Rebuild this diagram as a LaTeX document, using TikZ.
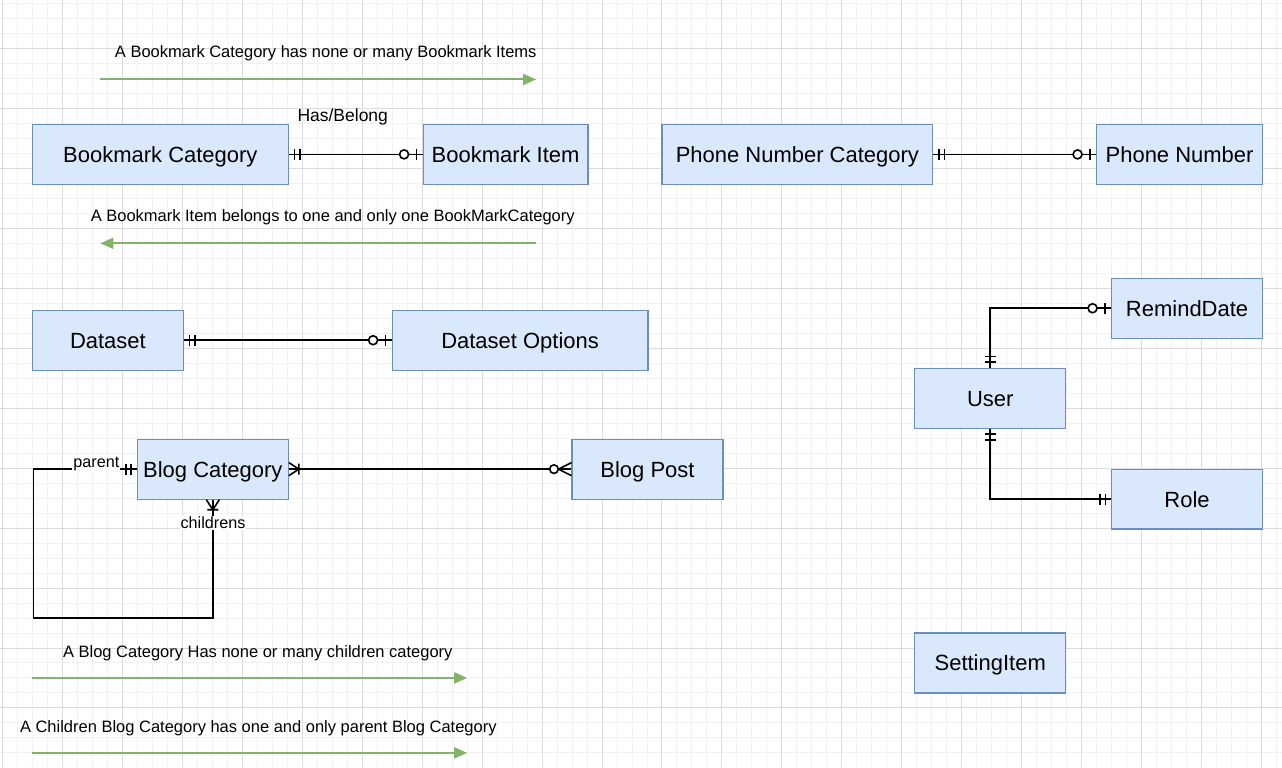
\documentclass[tikz,border=0pt]{standalone}
\usepackage{fontspec}
\setmainfont{Liberation Sans}
\usetikzlibrary{arrows.meta}
\definecolor{entityfill}{HTML}{DAE8FC}
\definecolor{entityline}{HTML}{6C8EBF}
\definecolor{hintgreen}{HTML}{82B366}
\definecolor{gridminor}{HTML}{F2F2F2}
\definecolor{gridmajor}{HTML}{DCDCDC}

\pgfdeclarearrow{
    name = ermandone,
    setup code = {
        \pgfarrowssettipend{0pt}
        \pgfarrowssetlineend{0pt}
        \pgfarrowssetbackend{-12pt}
        \pgfarrowssetvisualbackend{-12pt}
    },
    drawing code = {
        \pgfsetlinewidth{1.6pt}
        \pgfpathmoveto{\pgfqpoint{-5.5pt}{-5.5pt}}
        \pgfpathlineto{\pgfqpoint{-5.5pt}{5.5pt}}
        \pgfpathmoveto{\pgfqpoint{-11pt}{-5.5pt}}
        \pgfpathlineto{\pgfqpoint{-11pt}{5.5pt}}
        \pgfusepathqstroke
    }
}
\pgfdeclarearrow{
    name = erzeroone,
    setup code = {
        \pgfarrowssettipend{0pt}
        \pgfarrowssetlineend{0pt}
        \pgfarrowssetbackend{-23pt}
        \pgfarrowssetvisualbackend{-23pt}
    },
    drawing code = {
        \pgfsetlinewidth{1.6pt}
        \pgfpathmoveto{\pgfqpoint{-6pt}{-5.5pt}}
        \pgfpathlineto{\pgfqpoint{-6pt}{5.5pt}}
        \pgfusepathqstroke
        \pgfpathcircle{\pgfqpoint{-18.5pt}{0pt}}{4.5pt}
        \pgfsetfillcolor{white}
        \pgfusepathqfillstroke
    }
}
\pgfdeclarearrow{
    name = eronemany,
    setup code = {
        \pgfarrowssettipend{0pt}
        \pgfarrowssetlineend{0pt}
        \pgfarrowssetbackend{-11pt}
        \pgfarrowssetvisualbackend{-11pt}
    },
    drawing code = {
        \pgfsetlinewidth{1.6pt}
        \pgfpathmoveto{\pgfqpoint{0pt}{6.5pt}}
        \pgfpathlineto{\pgfqpoint{-10pt}{0pt}}
        \pgfpathlineto{\pgfqpoint{0pt}{-6.5pt}}
        \pgfpathmoveto{\pgfqpoint{-10pt}{-5.5pt}}
        \pgfpathlineto{\pgfqpoint{-10pt}{5.5pt}}
        \pgfusepathqstroke
    }
}
\pgfdeclarearrow{
    name = erzeromany,
    setup code = {
        \pgfarrowssettipend{0pt}
        \pgfarrowssetlineend{0pt}
        \pgfarrowssetbackend{-22pt}
        \pgfarrowssetvisualbackend{-22pt}
    },
    drawing code = {
        \pgfsetlinewidth{1.6pt}
        \pgfpathmoveto{\pgfqpoint{0pt}{6.5pt}}
        \pgfpathlineto{\pgfqpoint{-13pt}{0pt}}
        \pgfpathlineto{\pgfqpoint{0pt}{-6.5pt}}
        \pgfusepathqstroke
        \pgfpathcircle{\pgfqpoint{-17.5pt}{0pt}}{4.3pt}
        \pgfsetfillcolor{white}
        \pgfusepathqfillstroke
    }
}

\begin{document}
\begin{tikzpicture}[
        x=1pt, y=-1pt,
        entity/.style={draw=entityline, fill=entityfill, line width=1.2pt, inner sep=0pt,
            minimum height=60pt, text height=16pt, text depth=0pt,
            font=\fontsize{22}{26}\selectfont},
        note/.style={anchor=base, inner sep=0pt, font=\fontsize{16.5}{20}\selectfont},
        tag/.style={anchor=base, fill=white, inner sep=1pt, font=\fontsize{16.2}{19}\selectfont},
        rel/.style={line width=1.6pt},
        hint/.style={draw=hintgreen, line width=2pt, -{Triangle[length=13pt,width=11pt]}},
        gridline/.style={line width=1pt}
    ]
        \fill[white] (0,0) rectangle (1282,767);
        \foreach \gx in {2,17,...,1277} \draw[gridline, gridminor] (\gx,0) -- (\gx,767);
        \foreach \gy in {3,18,...,767} \draw[gridline, gridminor] (0,\gy) -- (1282,\gy);
        \foreach \gx in {2,62,...,1262} \draw[gridline, gridmajor] (\gx,0) -- (\gx,767);
        \foreach \gy in {48,108,...,708} \draw[gridline, gridmajor] (0,\gy) -- (1282,\gy);
        \useasboundingbox (0,0) rectangle (1282,767);

        \node[entity, minimum width=256pt] (bmcat) at (160,154) {Bookmark Category};
        \node[entity, minimum width=165pt] (bmitem) at (505.5,154) {Bookmark Item};
        \node[entity, minimum width=271pt] (phonecat) at (797.5,154) {Phone Number Category};
        \node[entity, minimum width=166pt] (phone) at (1180,154) {Phone Number};
        \node[entity, minimum width=151pt] (dataset) at (107.5,340) {Dataset};
        \node[entity, minimum width=256pt] (dsopts) at (520,340) {Dataset Options};
        \node[entity, minimum width=151pt] (blogcat) at (212.5,469) {Blog Category};
        \node[entity, minimum width=151pt] (blogpost) at (647.5,469) {Blog Post};
        \node[entity, minimum width=151pt] (remind) at (1187.5,308) {RemindDate};
        \node[entity, minimum width=151pt] (user) at (990.5,398) {User};
        \node[entity, minimum width=151pt] (role) at (1187.5,499) {Role};
        \node[entity, minimum width=151pt] (setting) at (990.5,663) {SettingItem};

        \draw[rel, ermandone-erzeroone] (bmcat) -- (bmitem);
        \draw[rel, ermandone-erzeroone] (phonecat) -- (phone);
        \draw[rel, ermandone-erzeroone] (dataset) -- (dsopts);
        \draw[rel, eronemany-erzeromany] (blogcat) -- (blogpost);
        \draw[rel, ermandone-erzeroone] (user.north) |- (remind.west);
        \draw[rel, ermandone-ermandone] (user.south) |- (role.west);
        \coordinate (loopcorner) at (33,618);
        \draw[rel, ermandone-eronemany] (blogcat.west) -| (loopcorner) -| (blogcat.south);

        \node[note, font=\fontsize{17.5}{21}\selectfont] (hasbelong) at (342.5,121) {Has/Belong};
        \node[tag] (parenttag) at (96,467.5) {parent};
        \node[tag] (childtag) at (212.7,528.5) {childrens};

        \node[note] (hint1txt) at (325.5,57) {A Bookmark Category has none or many Bookmark Items};
        \coordinate (hint1a) at (100,79);
        \coordinate (hint1b) at (536,79);
        \draw[hint] (hint1a) -- (hint1b);
        \node[note] (hint2txt) at (332.5,221) {A Bookmark Item belongs to one and only one BookMarkCategory};
        \coordinate (hint2a) at (536,243);
        \coordinate (hint2b) at (100,243);
        \draw[hint] (hint2a) -- (hint2b);
        \node[note] (hint3txt) at (257.5,658) {A Blog Category Has none or many children category};
        \coordinate (hint3a) at (32,678);
        \coordinate (hint3b) at (467,678);
        \draw[hint] (hint3a) -- (hint3b);
        \node[note] (hint4txt) at (258,733) {A Children Blog Category has one and only parent Blog Category};
        \coordinate (hint4a) at (32,753);
        \coordinate (hint4b) at (467,753);
        \draw[hint] (hint4a) -- (hint4b);
    \end{tikzpicture}
\end{document}
